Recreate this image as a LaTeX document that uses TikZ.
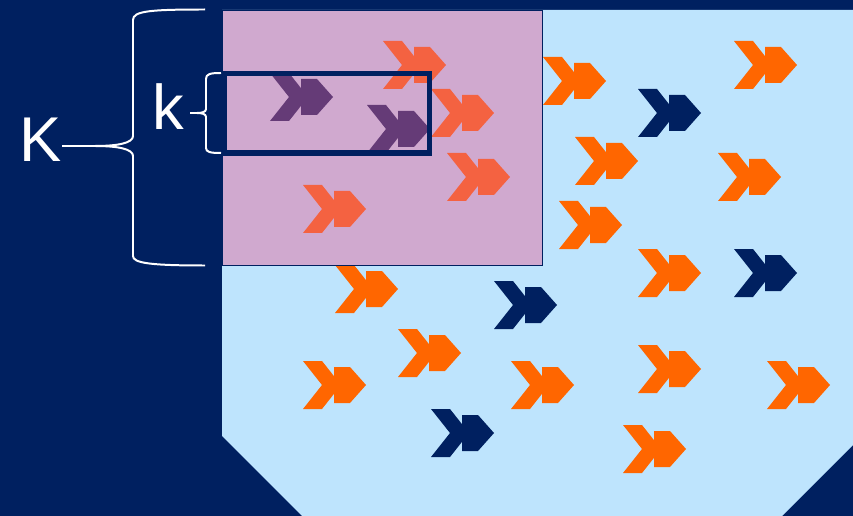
\documentclass[tikz,border=0pt]{standalone}
\usepackage{fontspec}
\setsansfont{Liberation Sans}
\usepackage{xcolor}
\definecolor{navy900}{HTML}{002060}
\definecolor{sky200}{HTML}{BEE4FD}
\definecolor{orange500}{HTML}{FF6600}
\definecolor{rose500}{RGB}{232,95,150}
\usepackage{tikz}
\usetikzlibrary{positioning}

\begin{document}
\begin{tikzpicture}[
        x=0.03cm, y=-0.03cm,
        chevrons/.pic={
            \path[pic actions] (-31,24) -- (-12,24) -- (7,0) -- (-12,-24) -- (-31,-24) -- (-12,0) -- cycle;
            \path[pic actions] (0,18) -- (16,18) -- (32,0) -- (16,-18) -- (0,-18) -- cycle;
        },
        hot/.style={fill=orange500},
        cold/.style={fill=navy900},
        brace/.style={draw=white, line width=1.7pt},
        letter/.style={text=white, font=\sffamily\fontsize{54}{60}\selectfont, anchor=base, inner sep=0pt}
    ]
        % Background and field
        \fill[navy900] (0,0) rectangle (853,516);
        \useasboundingbox (0,0) rectangle (853,516);
        \fill[sky200] (222,10) -- (853,10) -- (853,445) -- (782,516) -- (302,516) -- (222,436) -- cycle;

        % Particles
        \foreach \x/\y in {414/65, 462/113, 478/177, 334/209, 366/289, 574/81, 765/65, 606/161, 749/177, 590/225,
                           669/273, 669/369, 798/385, 334/385, 429/353, 542/385, 654/449}
            \pic[hot] at (\x,\y) {chevrons};
        \foreach \x/\y in {301/97, 398/129, 669/113, 765/273, 525/305, 462/433}
            \pic[cold] at (\x,\y) {chevrons};

        % Window K
        \fill[rose500, fill opacity=0.44] (222,10) rectangle (542,265);
        \draw[navy900, line width=0.6pt] (222,10) rectangle (542,265);

        % Window k
        \draw[navy900, line width=4.3pt] (224,73.5) rectangle (429.5,153);

        % Braces
        \coordinate (bigtip) at (62,146);
        \coordinate (smalltip) at (190,113);
        \draw[brace] (205,9.5) .. controls (150,9.5) and (133,11) .. (133,20) -- (133,136)
            .. controls (133,143) and (118,146) .. (95,146) -- (bigtip);
        \draw[brace] (95,146) .. controls (118,146) and (133,149) .. (133,156) -- (133,256)
            .. controls (133,263) and (150,265.5) .. (205,265.5);
        \draw[brace] (221,73) .. controls (210,73) and (206,74) .. (206,79) -- (206,109)
            .. controls (206,112) and (202,113) .. (197,113) -- (smalltip);
        \draw[brace] (197,113) .. controls (202,113) and (206,114) .. (206,117) -- (206,148)
            .. controls (206,152) and (210,153) .. (221,153);

        % Labels
        \node[letter] (bigK) at (40.5,162) {K};
        \node[letter] (smallk) at (168,130) {k};

    \end{tikzpicture}
\end{document}
